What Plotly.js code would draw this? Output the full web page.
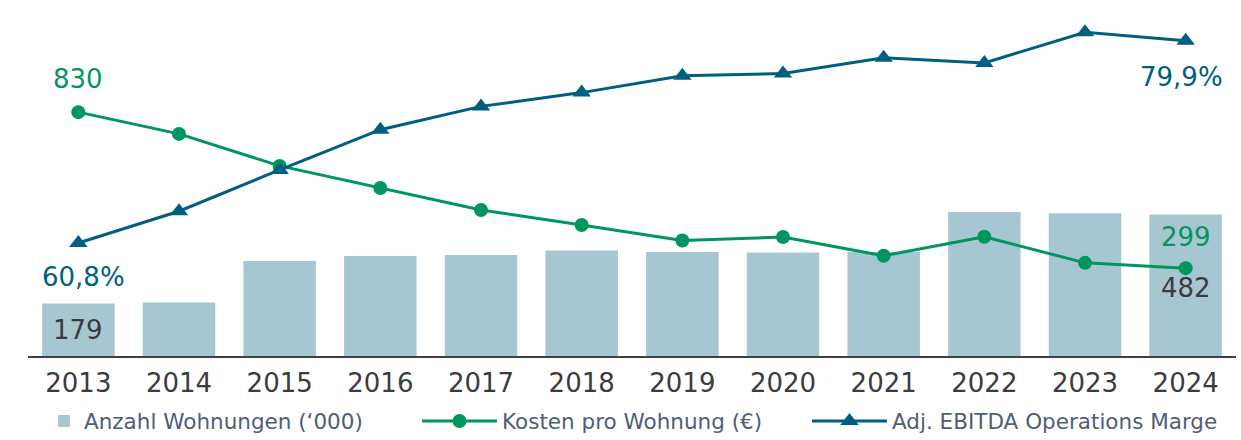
<!DOCTYPE html>
<html>
<head>
<meta charset="utf-8">
<script src="https://cdn.plot.ly/plotly-3.0.1.min.js"></script>
<style>
  html, body { margin: 0; padding: 0; background: #ffffff; }
  #chart { width: 1241px; height: 440px; }
</style>
</head>
<body>
<div id="chart"></div>
<script>
// ---- data ----
const years = ['2013','2014','2015','2016','2017','2018','2019','2020','2021','2022','2023','2024'];
const wohnungen = [179, 182, 323, 340, 344, 359, 354, 352, 354, 490, 486, 482];      // Anzahl Wohnungen ('000)
const kosten = [830, 756, 647, 572, 497, 446, 393, 405, 341, 406, 317, 299];         // Kosten pro Wohnung (€)
const marge = [60.8, 63.8, 67.7, 71.5, 73.7, 75.0, 76.6, 76.8, 78.3, 77.8, 80.7, 79.9]; // Adj. EBITDA Operations Marge (%)
const names = ['Anzahl Wohnungen (\u2018000)', 'Kosten pro Wohnung (\u20ac)', 'Adj. EBITDA Operations Marge'];

// ---- style ----
const barColor = '#a6c7d1';
const green = '#00965e';
const teal = '#005f7e';
const textGray = '#3b3b3b';
const legendGray = '#4e5e76';
const font = 'DejaVu Sans, Verdana, sans-serif';

const fmtPct = v => v.toFixed(1).replace('.', ',') + '%';
const first = 0;
const last = years.length - 1;

const traces = [
  {
    type: 'bar', x: years, y: wohnungen, name: names[0],
    marker: { color: barColor }, width: 0.72, yaxis: 'y',
    legend: 'legend', hoverinfo: 'x+y'
  },
  {
    type: 'scatter', mode: 'lines+markers', x: years, y: kosten, name: names[1],
    line: { color: green, width: 3 }, marker: { color: green, size: 14, symbol: 'circle' },
    yaxis: 'y', legend: 'legend2'
  },
  {
    type: 'scatter', mode: 'lines+markers', x: years, y: marge, name: names[2],
    line: { color: teal, width: 3 }, marker: { color: teal, size: 16, symbol: 'triangle-up' },
    yaxis: 'y2', legend: 'legend3'
  }
];

// annotations on a category axis: x given as category index
const ann = (i, y, yref, text, color, xshift, yshift) => ({
  x: i, y: y, xref: 'x', yref: yref, text: text, showarrow: false,
  xshift: xshift, yshift: yshift, font: { family: font, size: 26, color: color },
  xanchor: 'center', yanchor: 'middle'
});

const annotations = [
  ann(first, kosten[first], 'y', String(kosten[first]), green, 0, 33),
  ann(last, kosten[last], 'y', String(kosten[last]), green, 0, 31),
  ann(first, marge[first], 'y2', fmtPct(marge[first]), teal, 5, -34),
  ann(last, marge[last], 'y2', fmtPct(marge[last]), teal, -4, -36),
  ann(first, wohnungen[first], 'y', String(wohnungen[first]), textGray, 0, -27),
  ann(last, wohnungen[last], 'y', String(wohnungen[last]), textGray, 0, -74)
];

const legendBase = {
  orientation: 'h', xref: 'container', yref: 'container',
  yanchor: 'middle', xanchor: 'left', y: 1 - 421 / 440,
  font: { family: font, size: 21.5, color: legendGray },
  bgcolor: 'rgba(0,0,0,0)', borderwidth: 0
};

const layout = {
  width: 1241, height: 440,
  margin: { l: 28, r: 5, t: 10, b: 84 },
  paper_bgcolor: '#ffffff', plot_bgcolor: '#ffffff',
  font: { family: font, color: textGray },
  separators: ',.',
  xaxis: {
    type: 'category', categoryorder: 'array', categoryarray: years,
    range: [-0.5, years.length - 0.5], autorange: false,
    showline: true, linecolor: '#404040', linewidth: 2,
    showgrid: false, zeroline: false, ticks: '', ticklabelstandoff: 3,
    tickfont: { family: font, size: 26, color: textGray }
  },
  yaxis: { range: [0, 1177.7], autorange: false, visible: false, showgrid: false, zeroline: false },
  yaxis2: { range: [50.13, 82.80], autorange: false, overlaying: 'y', visible: false, showgrid: false, zeroline: false },
  showlegend: true,
  legend: Object.assign({}, legendBase, { x: 44 / 1241 }),
  legend2: Object.assign({}, legendBase, { x: 417 / 1241, itemwidth: 75 }),
  legend3: Object.assign({}, legendBase, { x: 807 / 1241, itemwidth: 75 }),
  annotations: annotations
};

Plotly.newPlot('chart', traces, layout, { displayModeBar: false, staticPlot: true });
</script>
</body>
</html>
